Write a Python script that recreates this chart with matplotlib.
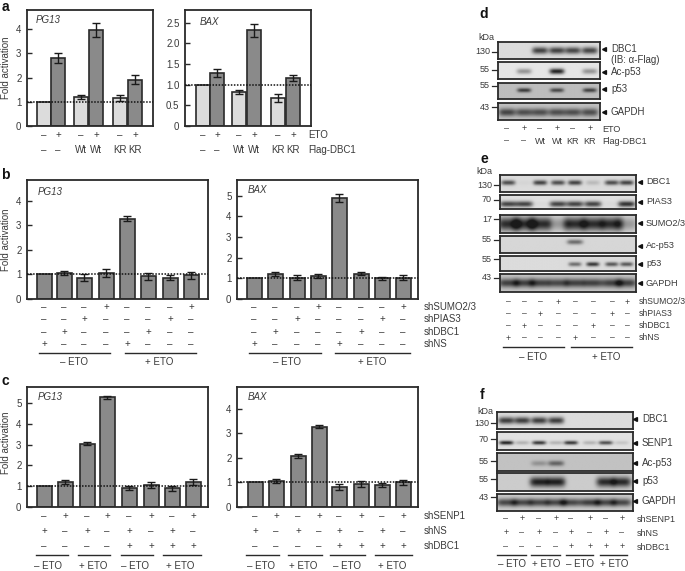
import numpy as np
import matplotlib
matplotlib.use("Agg")
import matplotlib.pyplot as plt

plt.rcParams["font.family"] = ["Liberation Sans", "DejaVu Sans"]
plt.rcParams["font.size"] = 7

W, H = 685, 571
INK = "#2a2a2a"
TXT = "#3a3a3a"
LIGHT = "#dcdcdc"
DARK = "#8a8a8a"

# --- bar data
a_pg13 = [1.0, 2.8, 1.2, 3.97, 1.17, 1.92]
a_pg13_err = [0, 0.2, 0.1, 0.3, 0.12, 0.17]
a_bax = [1.0, 1.28, 0.82, 2.32, 0.68, 1.16]
a_bax_err = [0, 0.1, 0.05, 0.16, 0.09, 0.08]
b_pg13 = [1.0, 1.05, 0.87, 1.05, 3.27, 0.92, 0.87, 0.97]
b_pg13_err = [0, 0.08, 0.13, 0.17, 0.09, 0.13, 0.1, 0.14]
b_bax = [1.0, 1.22, 1.03, 1.12, 4.9, 1.22, 1.0, 1.02]
b_bax_err = [0, 0.1, 0.13, 0.1, 0.2, 0.08, 0.07, 0.12]
c_pg13 = [1.0, 1.22, 3.05, 5.27, 0.9, 1.05, 0.9, 1.2]
c_pg13_err = [0, 0.1, 0.09, 0.07, 0.1, 0.15, 0.11, 0.13]
c_bax = [1.0, 1.05, 2.07, 3.27, 0.82, 0.95, 0.9, 1.0]
c_bax_err = [0, 0.08, 0.08, 0.07, 0.12, 0.12, 0.08, 0.1]

# --- treatment rows
eto_a = ["–", "+", "–", "+", "–", "+"]
flag_a = ["–", "–", "Wt", "Wt", "KR", "KR"]
sh_sumo = ["–", "–", "–", "+", "–", "–", "–", "+"]
sh_pias = ["–", "–", "+", "–", "–", "–", "+", "–"]
sh_dbc1 = ["–", "+", "–", "–", "–", "+", "–", "–"]
sh_ns = ["+", "–", "–", "–", "+", "–", "–", "–"]
sh_senp = ["–", "+", "–", "+", "–", "+", "–", "+"]
sh_ns_c = ["+", "–", "+", "–", "+", "–", "+", "–"]
sh_dbc1_c = ["–", "–", "–", "–", "+", "+", "+", "+"]

# --- blot band strengths per lane
d_dbc1 = [0, 0, 0.7, 0.7, 0.68, 0.68]
d_ac = [0, 0.35, 0, 0.85, 0, 0.35]
d_p53 = [0, 0.7, 0, 0.62, 0, 0.66]
d_gapdh = [0.65, 0.6, 0.6, 0.6, 0.6, 0.6]
e_dbc1 = [0.65, 0.03, 0.7, 0.65, 0.7, 0.15, 0.65, 0.7]
e_pias = [0.7, 0.7, 0.03, 0.7, 0.7, 0.7, 0.03, 0.78]
e_sumo = [0.8, 0.8, 0.8, 0.3, 0.8, 0.8, 0.8, 0.3]
e_ac = [0, 0, 0, 0, 0.5, 0, 0, 0]
e_p53 = [0, 0, 0, 0, 0.5, 0.75, 0.6, 0.6]
e_gapdh = [0.68, 0.68, 0.68, 0.64, 0.68, 0.68, 0.68, 0.68]
f_dbc1 = [0.72, 0.72, 0.72, 0.72, 0, 0, 0, 0]
f_senp = [0.85, 0.2, 0.75, 0.2, 0.75, 0.2, 0.65, 0.12]
f_ac = [0, 0, 0.25, 0.5, 0, 0, 0, 0]
f_p53 = [0, 0, 0.85, 0.85, 0, 0, 0.8, 0.8]
f_gapdh = [0.65, 0.65, 0.65, 0.65, 0.65, 0.7, 0.65, 0.65]

# --- layout, all in figure pixels
x_a_pg13 = [44, 58, 81, 96, 120, 135]
x_a_bax = [203, 217, 239, 254, 278, 293]
x_b_pg13 = [44, 64, 84, 106, 127, 148, 170, 191]
x_b_bax = [254, 275, 297, 318, 339, 361, 382, 403]
x_c_pg13 = [44, 65, 87, 107, 129, 151, 172, 193]
x_c_bax = [255, 276, 298, 319, 339, 361, 382, 403]
lanes_d = [507, 524, 540, 557, 573, 590]
lanes_e = [508, 524, 540, 558, 575, 593, 612, 627]
lanes_f = [506, 522, 539, 556, 571, 590, 606, 622]

fig = plt.figure(figsize=(W / 100, H / 100), dpi=100)


def px_axes(x0, y0, x1, y1):
    return fig.add_axes([x0 / W, 1 - y1 / H, (x1 - x0) / W, (y1 - y0) / H])


def bars(box, xs, vals, errs, unit, ticks, labels, name, name_xy, width, colors):
    x0, y0, x1, y1 = box
    ax = px_axes(*box)
    ax.set_xlim(x0, x1)
    ax.set_ylim(0, (y1 - y0) / unit)
    ax.bar(xs, vals, width=width, color=colors, edgecolor=INK, linewidth=1.2, zorder=2)
    xe = [x for x, e in zip(xs, errs) if e > 0]
    ve = [v for v, e in zip(vals, errs) if e > 0]
    ee = [e for e in errs if e > 0]
    ax.errorbar(xe, ve, yerr=ee, fmt="none", ecolor="#1a1a1a", elinewidth=1.0,
                capsize=2.6, capthick=1.0, zorder=3)
    ax.axhline(1, color="#111111", lw=1.1, ls=(0, (1, 1)), zorder=4)
    ax.set_xticks([])
    ax.set_yticks(ticks)
    ax.set_yticklabels(labels, color=TXT, fontsize=7)
    ax.tick_params(axis="y", direction="in", length=3.5, width=1.0, color=INK, pad=4)
    for s in ax.spines.values():
        s.set_linewidth(1.3)
        s.set_color(INK)
    ov.text(name_xy[0], name_xy[1], name, style="italic", va="center", ha="left",
            color=TXT, fontsize=7)


def blot(box, lanes, strength, bg, cy, sx, sy):
    x0, y0, x1, y1 = box
    ax = px_axes(*box)
    xx, yy = np.meshgrid(np.linspace(x0, x1, 160), np.linspace(y0, y1, 40))
    dark = np.zeros_like(xx)
    mid = y0 + cy * (y1 - y0)
    for lx, s in zip(lanes, strength):
        dark += s * np.exp(-(((xx - lx) / sx) ** 4) - (((yy - mid) / sy) ** 2))
    img = bg * (1 - np.clip(dark, 0, 0.88))
    ax.imshow(img, cmap="gray", vmin=0, vmax=1, aspect="auto", interpolation="bilinear",
              extent=(x0, x1, y1, y0))
    ax.set_xticks([])
    ax.set_yticks([])
    for s in ax.spines.values():
        s.set_linewidth(1.3)
        s.set_color(INK)


def rows(xs, columns, ys, names=None, name_x=None, size=7):
    for col, y in zip(columns, ys):
        for x, s in zip(xs, col):
            ov.text(x, y, s, ha="center", va="center", color=TXT, fontsize=size)
    if names:
        for n, y in zip(names, ys):
            ov.text(name_x, y, n, ha="left", va="center", color=TXT, fontsize=size)


def eto_groups(spans, y_line, y_text, labels, centres):
    for (a, b) in spans:
        ov.plot([a, b], [y_line, y_line], color=INK, lw=1.0)
    for lab, c in zip(labels, centres):
        ov.text(c, y_text, lab, ha="center", va="center", color=TXT, fontsize=7)


def markers(x_right, items):
    for lab, y in items:
        ov.text(x_right, y, lab, ha="right", va="center", color=TXT, fontsize=6.5)
        ov.plot([x_right + 2, x_right + 7], [y, y], color=INK, lw=0.9)


def arrows(x_arrow, x_text, items, size=7):
    ov.plot([x_arrow] * len(items), [y for _, y in items], ls="none", marker="<",
            ms=2.8, color="#111111")
    for lab, y in items:
        ov.text(x_text, y, lab, ha="left", va="center", color=TXT, fontsize=size)


# overlay for all the loose text, y runs downward in pixels
ov = fig.add_axes([0, 0, 1, 1], zorder=10)
ov.set_xlim(0, W)
ov.set_ylim(H, 0)
ov.axis("off")
ov.patch.set_alpha(0)

# panel a
a_colors = [LIGHT, DARK] * 3
bars((27, 10, 153, 126), x_a_pg13, a_pg13, a_pg13_err, 24.2, [0, 1, 2, 3, 4],
     ["0", "1", "2", "3", "4"], "PG13", (36, 20), 13.5, a_colors)
bars((185, 10, 311, 126), x_a_bax, a_bax, a_bax_err, 41.3, [0, 0.5, 1, 1.5, 2, 2.5],
     ["0", "0.5", "1.0", "1.5", "2.0", "2.5"], "BAX", (200, 22), 13.5, a_colors)
rows(x_a_pg13, [eto_a, flag_a], [135, 150])
rows(x_a_bax, [eto_a, flag_a], [135, 150], ["ETO", "Flag-DBC1"], 308)

# panel b
b_colors = [DARK] * 8
bars((27, 180, 208, 299), x_b_pg13, b_pg13, b_pg13_err, 24.6, [0, 1, 2, 3, 4],
     ["0", "1", "2", "3", "4"], "PG13", (38, 192), 15, b_colors)
bars((237, 180, 418, 299), x_b_bax, b_bax, b_bax_err, 20.67, [0, 1, 2, 3, 4, 5],
     ["0", "1", "2", "3", "4", "5"], "BAX", (248, 190), 15, b_colors)
b_rows = [sh_sumo, sh_pias, sh_dbc1, sh_ns]
b_names = ["shSUMO2/3", "shPIAS3", "shDBC1", "shNS"]
rows(x_b_pg13, b_rows, [307, 319, 332, 344])
rows(x_b_bax, b_rows, [307, 319, 332, 344], b_names, 424)
eto_groups([(39, 110), (125, 196)], 353, 362, ["– ETO", "+ ETO"], [74, 159])
eto_groups([(249, 321), (335, 410)], 353, 362, ["– ETO", "+ ETO"], [287, 372])

# panel c
bars((27, 387, 208, 507), x_c_pg13, c_pg13, c_pg13_err, 20.8, [0, 1, 2, 3, 4, 5],
     ["0", "1", "2", "3", "4", "5"], "PG13", (38, 397), 15, b_colors)
bars((237, 387, 418, 507), x_c_bax, c_bax, c_bax_err, 24.6, [0, 1, 2, 3, 4],
     ["0", "1", "2", "3", "4"], "BAX", (248, 397), 15, b_colors)
c_rows = [sh_senp, sh_ns_c, sh_dbc1_c]
c_names = ["shSENP1", "shNS", "shDBC1"]
rows(x_c_pg13, c_rows, [516, 531, 546])
rows(x_c_bax, c_rows, [516, 531, 546], c_names, 424)
four = ["– ETO", "+ ETO", "– ETO", "+ ETO"]
eto_groups([(36, 68), (78, 110), (121, 153), (163, 201)], 555, 566, four, [48, 93, 135, 180])
eto_groups([(246, 279), (288, 322), (330, 365), (375, 412)], 555, 566, four, [261, 303, 347, 392])

# fold activation labels
for y in (68, 240, 443):
    ov.text(6, y, "Fold activation", rotation=90, ha="center", va="center", color=TXT, fontsize=7)

# panel letters
for lab, x, y in [("a", 5, 7), ("b", 5, 175), ("c", 5, 381), ("d", 484, 14), ("e", 484, 159), ("f", 482, 395)]:
    ov.text(x, y, lab, fontweight="bold", ha="center", va="center", color="#111111", fontsize=10)

# blots d
blot((498, 42, 600, 59), lanes_d, d_dbc1, 0.86, 0.5, 8, 3.5)
blot((498, 62, 600, 79), lanes_d, d_ac, 0.9, 0.55, 7.5, 2.8)
blot((498, 83, 600, 99), lanes_d, d_p53, 0.74, 0.45, 7, 2.2)
blot((498, 103, 600, 120), lanes_d, d_gapdh, 0.76, 0.55, 8.5, 4)
ov.text(486, 38, "kDa", ha="center", va="center", color=TXT, fontsize=6.5)
markers(490, [("130", 52), ("55", 70), ("55", 86), ("43", 107)])
arrows(604, 611, [("DBC1", 49), ("Ac-p53", 72), ("p53", 89), ("GAPDH", 112)])
ov.text(611, 60, "(IB: α-Flag)", ha="left", va="center", color=TXT, fontsize=7)
rows(lanes_d, [eto_a, flag_a], [129, 141], ["ETO", "Flag-DBC1"], 602, size=6.5)

# blots e
blot((500, 175, 636, 192), lanes_e, e_dbc1, 0.86, 0.45, 7, 2.5)
blot((500, 195, 636, 209), lanes_e, e_pias, 0.88, 0.65, 8.5, 3)
blot((500, 215, 636, 233), lanes_e, e_sumo, 0.86, 0.5, 11, 7)
blot((500, 236, 636, 253), lanes_e, e_ac, 0.84, 0.35, 8, 2.5)
blot((500, 256, 636, 271), lanes_e, e_p53, 0.86, 0.55, 6.5, 2.2)
blot((500, 274, 636, 292), lanes_e, e_gapdh, 0.78, 0.5, 10, 4.5)
ov.text(484, 172, "kDa", ha="center", va="center", color=TXT, fontsize=6.5)
markers(492, [("130", 185), ("70", 200), ("17", 219), ("55", 240), ("55", 259), ("43", 278)])
arrows(640, 646, [("DBC1", 182), ("PIAS3", 202), ("SUMO2/3", 223), ("Ac-p53", 246), ("p53", 264), ("GAPDH", 283)], size=6.6)
rows(lanes_e, b_rows, [302, 314, 326, 338], b_names, 639, size=6.2)
eto_groups([(503, 564), (571, 632)], 347, 357, ["– ETO", "+ ETO"], [533, 606])

# blots f
blot((497, 412, 633, 429), lanes_f, f_dbc1, 0.86, 0.5, 8, 3.5)
blot((497, 432, 633, 450), lanes_f, f_senp, 0.88, 0.6, 7, 2)
blot((497, 453, 633, 471), lanes_f, f_ac, 0.76, 0.6, 8, 2.6)
blot((497, 473, 633, 491), lanes_f, f_p53, 0.8, 0.5, 9.5, 5)
blot((497, 494, 633, 511), lanes_f, f_gapdh, 0.8, 0.5, 10, 4)
ov.text(485, 411, "kDa", ha="center", va="center", color=TXT, fontsize=6.5)
markers(489, [("130", 423), ("70", 439), ("55", 461), ("55", 479), ("43", 497)])
arrows(635, 642, [("DBC1", 419), ("SENP1", 443), ("Ac-p53", 463), ("p53", 481), ("GAPDH", 501)])
rows(lanes_f, c_rows, [519, 533, 547], c_names, 637, size=6.5)
eto_groups([(497, 526), (531, 560), (566, 593), (600, 627)], 555, 564, four, [512, 546, 580, 614])

ov.set_xlim(0, W)
ov.set_ylim(H, 0)
fig.savefig("out.png", dpi=100)
